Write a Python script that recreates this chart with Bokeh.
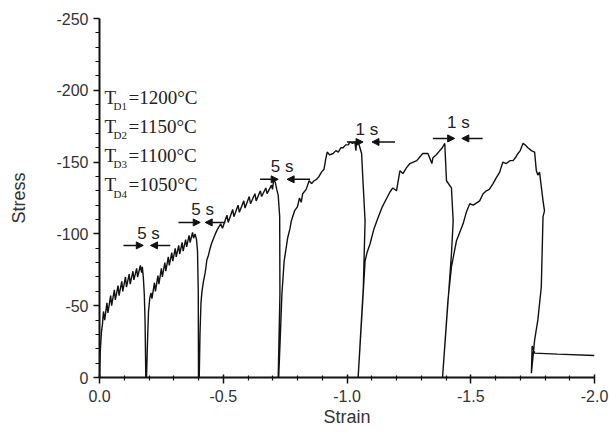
from bokeh.plotting import figure
from bokeh.models import Range1d, FixedTicker, NumeralTickFormatter, Arrow, NormalHead, ColumnDataSource
from bokeh.embed import file_html
from bokeh.resources import INLINE
from bokeh.core.properties import value

# ---------------- data ----------------
strain = [
    # pass 1
    0.0, -0.003, -0.008, -0.012, -0.016, -0.021, -0.030, -0.034, -0.045, -0.049,
    -0.060, -0.064, -0.075, -0.079, -0.090, -0.094, -0.105, -0.109, -0.120, -0.124,
    -0.135, -0.139, -0.150, -0.154, -0.165, -0.170, -0.173, -0.177, -0.181, -0.184,
    -0.186, -0.187,
    # pass 2
    -0.190, -0.194, -0.198, -0.203, -0.208, -0.212, -0.222, -0.226, -0.236, -0.240,
    -0.250, -0.254, -0.264, -0.268, -0.278, -0.282, -0.292, -0.296, -0.306, -0.310,
    -0.320, -0.324, -0.334, -0.338, -0.348, -0.352, -0.362, -0.366, -0.376, -0.380,
    -0.386, -0.392, -0.396, -0.399, -0.400,
    # pass 3
    -0.403, -0.406, -0.410, -0.414, -0.420, -0.427, -0.434, -0.440, -0.447, -0.454,
    -0.461, -0.468, -0.476, -0.483, -0.490, -0.497, -0.515, -0.520, -0.538, -0.543,
    -0.560, -0.565, -0.583, -0.588, -0.605, -0.610, -0.628, -0.633, -0.650, -0.655,
    -0.672, -0.677, -0.695, -0.699, -0.704, -0.710, -0.716, -0.722, -0.728, -0.729,
    -0.722,
    # pass 4
    -0.724, -0.732, -0.737, -0.746, -0.754, -0.760, -0.770, -0.775, -0.788, -0.800,
    -0.808, -0.815, -0.821, -0.835, -0.847, -0.857, -0.867, -0.877, -0.887, -0.897,
    -0.907, -0.914, -0.920, -0.930, -0.944, -0.955, -0.965, -0.975, -0.984, -0.995,
    -1.005, -1.012, -1.022, -1.032, -1.036, -1.039, -1.044, -1.059, -1.066, -1.073,
    -1.066, -1.045,
    # pass 5
    -1.059, -1.073, -1.081, -1.093, -1.108, -1.125, -1.143, -1.161, -1.173, -1.185,
    -1.200, -1.214, -1.226, -1.240, -1.254, -1.268, -1.282, -1.306, -1.327, -1.343,
    -1.347, -1.360, -1.375, -1.385, -1.395, -1.402, -1.422, -1.429, -1.422, -1.386,
    # pass 6 and unloading
    -1.408, -1.422, -1.442, -1.469, -1.482, -1.496, -1.510, -1.536, -1.550, -1.563,
    -1.575, -1.590, -1.603, -1.617, -1.624, -1.630, -1.644, -1.658, -1.671, -1.680,
    -1.691, -1.700, -1.711, -1.720, -1.731, -1.745, -1.758, -1.765, -1.771, -1.778,
    -1.785, -1.792, -1.798, -1.792, -1.785, -1.771, -1.758, -1.745, -1.748, -1.758,
    -1.850, -2.000,
]
stress = [
    # pass 1
    0, -18, -32, -37, -46, -40, -52, -45, -57, -50,
    -61, -54, -64, -57, -67, -60, -70, -63, -72, -65,
    -74, -68, -76, -70, -78, -73, -77, -70, -58, -40,
    -15, 0,
    # pass 2
    0, -25, -46, -55, -59, -55, -66, -60, -71, -65,
    -76, -70, -80, -74, -84, -78, -87, -81, -90, -84,
    -92, -86, -94, -88, -96, -91, -99, -94, -101, -97,
    -100, -96, -88, -60, 0,
    # pass 3
    0, -30, -52, -60, -67, -73, -82, -85, -90, -94,
    -97, -100, -103, -105, -107, -104, -113, -108, -117, -112,
    -120, -115, -123, -118, -126, -121, -128, -123, -130, -126,
    -132, -128, -134, -131, -138, -136, -131, -127, -112, -58,
    0,
    # pass 4
    0, -35, -58, -81, -90, -97, -104, -109, -116, -119,
    -125, -122, -128, -131, -137, -135, -137, -138, -140, -143,
    -145, -152, -157, -155, -156, -158, -157, -160, -160, -162,
    -162, -164, -163, -164, -158, -165, -165, -156, -132, -109,
    -63, 0,
    # pass 5
    -40, -81, -87, -93, -103, -111, -119, -125, -129, -132,
    -130, -144, -142, -146, -149, -150, -151, -156, -156, -149,
    -153, -155, -158, -160, -163, -137, -132, -109, -86, 0,
    # pass 6 and unloading
    -54, -77, -95, -107, -115, -121, -120, -123, -128, -130,
    -131, -135, -139, -143, -147, -150, -149, -151, -151, -153,
    -156, -158, -163, -162, -160, -158, -157, -144, -141, -143,
    -133, -123, -116, -112, -63, -40, -26, -3, -22, -17,
    -16.3, -15.3,
]

x_ticks = [0.0, -0.5, -1.0, -1.5, -2.0]
x_minor = [-0.1, -0.2, -0.3, -0.4, -0.6, -0.7, -0.8, -0.9, -1.1, -1.2, -1.3, -1.4,
           -1.6, -1.7, -1.8, -1.9]
y_ticks = [0, -50, -100, -150, -200, -250]
y_minor = [-10, -20, -30, -40, -60, -70, -80, -90, -110, -120, -130, -140,
           -160, -170, -180, -190, -210, -220, -230, -240]

hold_labels = ["5 s", "5 s", "5 s", "1 s", "1 s"]
temp_subs = ["D1", "D2", "D3", "D4"]
temp_vals = ["=1200\u00b0C", "=1150\u00b0C", "=1100\u00b0C", "=1050\u00b0C"]

# ---------------- annotation placement ----------------
arrow_y = [-92, -108, -138, -164, -166.5]
right_from = [-0.097, -0.319, -0.649, -1.000, -1.347]
right_to = [-0.177, -0.407, -0.722, -1.065, -1.435]
left_from = [-0.286, -0.508, -0.851, -1.194, -1.548]
left_to = [-0.206, -0.427, -0.758, -1.101, -1.464]
label_x = [-0.198, -0.417, -0.738, -1.080, -1.450]
label_y = [-100, -117, -147, -172.5, -177.5]

td_x = -0.020
td_y = [-195.0, -174.8, -154.6, -134.4]

# ---------------- figure ----------------
p = figure(width=609, height=432, output_backend="svg", toolbar_location=None,
           x_range=Range1d(0, -2.0), y_range=Range1d(0, -250),
           x_axis_label="Strain", y_axis_label="Stress",
           min_border_left=99, min_border_right=15, min_border_top=18,
           min_border_bottom=55)
p.outline_line_color = None
p.grid.visible = False
p.background_fill_color = "white"
p.border_fill_color = "white"

p.xaxis.ticker = FixedTicker(ticks=x_ticks, minor_ticks=x_minor)
p.yaxis.ticker = FixedTicker(ticks=y_ticks, minor_ticks=y_minor)
p.xaxis.formatter = NumeralTickFormatter(format="0.0")
p.yaxis.formatter = NumeralTickFormatter(format="0")

for ax in (p.xaxis[0], p.yaxis[0]):
    ax.axis_line_width = 2
    ax.axis_line_color = "#111111"
    ax.major_tick_line_color = "#111111"
    ax.minor_tick_line_color = "#111111"
    ax.major_tick_line_width = 1.5
    ax.minor_tick_line_width = 1.2
    ax.major_label_text_font = "Liberation Sans"
    ax.major_label_text_font_size = "16px"
    ax.major_label_text_color = "#333333"
    ax.axis_label_text_font = "Liberation Sans"
    ax.axis_label_text_font_size = "18px"
    ax.axis_label_text_font_style = "normal"
    ax.axis_label_text_color = "#333333"

p.xaxis.major_tick_in = 3
p.xaxis.major_tick_out = 6
p.xaxis.minor_tick_in = 2
p.xaxis.minor_tick_out = 3
p.xaxis.major_label_standoff = 6
p.xaxis.axis_label_standoff = 2
p.yaxis.major_tick_in = 0
p.yaxis.major_tick_out = 6
p.yaxis.minor_tick_in = 0
p.yaxis.minor_tick_out = 4
p.yaxis.major_label_standoff = 5
p.yaxis.axis_label_standoff = 24

p.line(strain, stress, line_color="#111111", line_width=1.4)

# hold-time arrows
head = dict(size=7, fill_color="#111111", line_color="#111111", line_width=1)
asrc = ColumnDataSource(dict(
    xs=right_from + left_from, xe=right_to + left_to, y=arrow_y + arrow_y))
p.add_layout(Arrow(end=NormalHead(**head), source=asrc,
                   x_start="xs", y_start="y", x_end="xe", y_end="y",
                   line_color="#111111", line_width=1.5))

p.text(x=label_x, y=label_y, text=hold_labels, text_font=value("Liberation Sans"),
       text_font_size="17px", text_align="center", text_baseline="middle",
       text_color="#222222")

# temperature legend text
p.text(x=[td_x] * 4, y=td_y, text=["T"] * 4, text_font=value("Liberation Serif"),
       text_font_size="19px", text_align="left", text_baseline="alphabetic",
       text_color="#222222")
p.text(x=[td_x] * 4, y=td_y, text=temp_subs, text_font=value("Liberation Serif"),
       text_font_size="11px", text_align="left", text_baseline="alphabetic",
       text_color="#222222", x_offset=9, y_offset=9)
p.text(x=[td_x] * 4, y=td_y, text=temp_vals, text_font=value("Liberation Serif"),
       text_font_size="19px", text_align="left", text_baseline="alphabetic",
       text_color="#222222", x_offset=24)

open("out.html", "w").write(file_html(p, INLINE))
